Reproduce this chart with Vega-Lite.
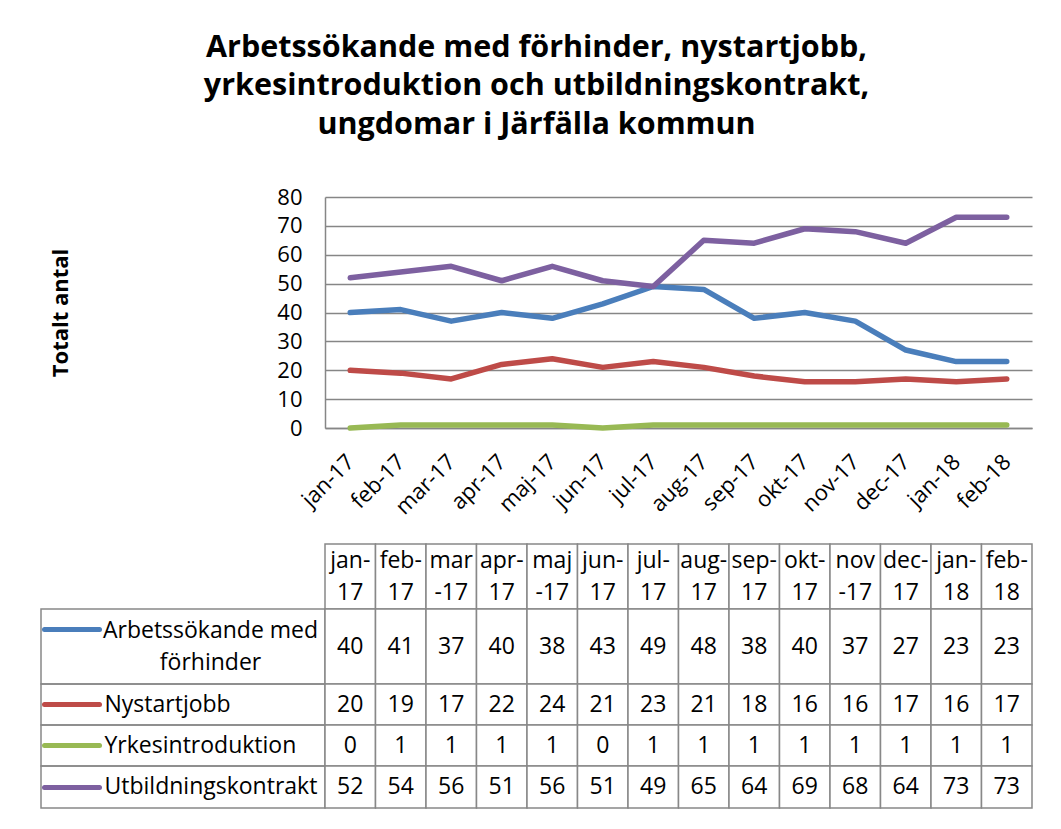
{
  "$schema": "https://vega.github.io/schema/vega-lite/v6.json",
  "background": "white",
  "padding": {"left": 40, "top": 32, "right": 10, "bottom": 10},
  "config": {"font": "Open Sans", "view": {"stroke": null}},
  "title": {"text": ["Arbetssökande med förhinder, nystartjobb,", "yrkesintroduktion och utbildningskontrakt,", "ungdomar i Järfälla kommun"], "font": "Open Sans", "fontSize": 30.5, "fontWeight": "bold", "lineHeight": 38.5, "anchor": "middle", "offset": 46, "color": "black"},
  "datasets": {
    "d": [
      {"m": "jan-17", "s": "Arbetssökande med förhinder", "v": 40},
      {"m": "feb-17", "s": "Arbetssökande med förhinder", "v": 41},
      {"m": "mar-17", "s": "Arbetssökande med förhinder", "v": 37},
      {"m": "apr-17", "s": "Arbetssökande med förhinder", "v": 40},
      {"m": "maj-17", "s": "Arbetssökande med förhinder", "v": 38},
      {"m": "jun-17", "s": "Arbetssökande med förhinder", "v": 43},
      {"m": "jul-17", "s": "Arbetssökande med förhinder", "v": 49},
      {"m": "aug-17", "s": "Arbetssökande med förhinder", "v": 48},
      {"m": "sep-17", "s": "Arbetssökande med förhinder", "v": 38},
      {"m": "okt-17", "s": "Arbetssökande med förhinder", "v": 40},
      {"m": "nov-17", "s": "Arbetssökande med förhinder", "v": 37},
      {"m": "dec-17", "s": "Arbetssökande med förhinder", "v": 27},
      {"m": "jan-18", "s": "Arbetssökande med förhinder", "v": 23},
      {"m": "feb-18", "s": "Arbetssökande med förhinder", "v": 23},
      {"m": "jan-17", "s": "Nystartjobb", "v": 20},
      {"m": "feb-17", "s": "Nystartjobb", "v": 19},
      {"m": "mar-17", "s": "Nystartjobb", "v": 17},
      {"m": "apr-17", "s": "Nystartjobb", "v": 22},
      {"m": "maj-17", "s": "Nystartjobb", "v": 24},
      {"m": "jun-17", "s": "Nystartjobb", "v": 21},
      {"m": "jul-17", "s": "Nystartjobb", "v": 23},
      {"m": "aug-17", "s": "Nystartjobb", "v": 21},
      {"m": "sep-17", "s": "Nystartjobb", "v": 18},
      {"m": "okt-17", "s": "Nystartjobb", "v": 16},
      {"m": "nov-17", "s": "Nystartjobb", "v": 16},
      {"m": "dec-17", "s": "Nystartjobb", "v": 17},
      {"m": "jan-18", "s": "Nystartjobb", "v": 16},
      {"m": "feb-18", "s": "Nystartjobb", "v": 17},
      {"m": "jan-17", "s": "Yrkesintroduktion", "v": 0},
      {"m": "feb-17", "s": "Yrkesintroduktion", "v": 1},
      {"m": "mar-17", "s": "Yrkesintroduktion", "v": 1},
      {"m": "apr-17", "s": "Yrkesintroduktion", "v": 1},
      {"m": "maj-17", "s": "Yrkesintroduktion", "v": 1},
      {"m": "jun-17", "s": "Yrkesintroduktion", "v": 0},
      {"m": "jul-17", "s": "Yrkesintroduktion", "v": 1},
      {"m": "aug-17", "s": "Yrkesintroduktion", "v": 1},
      {"m": "sep-17", "s": "Yrkesintroduktion", "v": 1},
      {"m": "okt-17", "s": "Yrkesintroduktion", "v": 1},
      {"m": "nov-17", "s": "Yrkesintroduktion", "v": 1},
      {"m": "dec-17", "s": "Yrkesintroduktion", "v": 1},
      {"m": "jan-18", "s": "Yrkesintroduktion", "v": 1},
      {"m": "feb-18", "s": "Yrkesintroduktion", "v": 1},
      {"m": "jan-17", "s": "Utbildningskontrakt", "v": 52},
      {"m": "feb-17", "s": "Utbildningskontrakt", "v": 54},
      {"m": "mar-17", "s": "Utbildningskontrakt", "v": 56},
      {"m": "apr-17", "s": "Utbildningskontrakt", "v": 51},
      {"m": "maj-17", "s": "Utbildningskontrakt", "v": 56},
      {"m": "jun-17", "s": "Utbildningskontrakt", "v": 51},
      {"m": "jul-17", "s": "Utbildningskontrakt", "v": 49},
      {"m": "aug-17", "s": "Utbildningskontrakt", "v": 65},
      {"m": "sep-17", "s": "Utbildningskontrakt", "v": 64},
      {"m": "okt-17", "s": "Utbildningskontrakt", "v": 69},
      {"m": "nov-17", "s": "Utbildningskontrakt", "v": 68},
      {"m": "dec-17", "s": "Utbildningskontrakt", "v": 64},
      {"m": "jan-18", "s": "Utbildningskontrakt", "v": 73},
      {"m": "feb-18", "s": "Utbildningskontrakt", "v": 73}
    ]
  },
  "columns": 2,
  "spacing": 0,
  "bounds": "flush",
  "align": "each",
  "concat": [
    {"width": 284, "height": 231, "data": {"values": [{}]}, "mark": "text", "encoding": {"text": {"value": ""}}},
    {
      "width": 707, "height": 231,
      "data": {"name": "d"},
      "mark": {"type": "line", "strokeWidth": 5.5, "strokeCap": "round", "strokeJoin": "round"},
      "encoding": {
        "x": {"field": "m", "type": "ordinal", "sort": ["jan-17","feb-17","mar-17","apr-17","maj-17","jun-17","jul-17","aug-17","sep-17","okt-17","nov-17","dec-17","jan-18","feb-18"], "scale": {"padding": 0.5},
              "axis": {"title": null, "labelAngle": -45, "labelAlign": "right", "labelBaseline": "middle", "labelFontSize": 22, "labelColor": "black", "labelPadding": 30, "ticks": false, "domain": true, "domainColor": "#868686", "domainWidth": 1.5, "grid": false}},
        "y": {"field": "v", "type": "quantitative", "scale": {"domain": [0, 80], "nice": false},
              "axis": {"values": [0,10,20,30,40,50,60,70,80], "title": "Totalt antal", "titleFontSize": 22, "titleFontWeight": "bold", "titleColor": "black", "titlePadding": 204, "labelFontSize": 22, "labelColor": "black", "labelPadding": 23, "ticks": false, "domainColor": "#868686", "domainWidth": 1.5, "grid": true, "gridColor": "#868686", "gridWidth": 1.5}},
        "color": {"field": "s", "type": "nominal", "scale": {"domain": ["Arbetssökande med förhinder", "Nystartjobb", "Yrkesintroduktion", "Utbildningskontrakt"], "range": ["#4A7EBB", "#BE4B48", "#98B954", "#7D60A0"]}, "legend": null}
      }
    },
    {"width": 284, "height": 116, "data": {"values": [{}]}, "mark": "text", "encoding": {"text": {"value": ""}}},
    {"width": 707, "height": 116, "data": {"values": [{}]}, "mark": "text", "encoding": {"text": {"value": ""}}},
    {"width": 284, "height": 65, "data": {"values": [{}]}, "mark": "text", "encoding": {"text": {"value": ""}}},
    {
      "width": 707, "height": 65,
      "data": {"name": "d"},
      "transform": [
        {"filter": "datum.s === 'Nystartjobb'"},
        {"calculate": "indexof(['mar-17','maj-17','nov-17'], datum.m) >= 0 ? [substring(datum.m, 0, 3), substring(datum.m, 3)] : [substring(datum.m, 0, 4), substring(datum.m, 4)]", "as": "h"}
      ],
      "layer": [
        {"mark": {"type": "rect", "fill": "white", "stroke": "#888888", "strokeWidth": 1.5},
         "encoding": {"x": {"field": "m", "type": "ordinal", "sort": ["jan-17","feb-17","mar-17","apr-17","maj-17","jun-17","jul-17","aug-17","sep-17","okt-17","nov-17","dec-17","jan-18","feb-18"], "scale": {"paddingInner": 0, "paddingOuter": 0}, "axis": null}}},
        {"mark": {"type": "text", "fontSize": 23, "color": "black", "lineHeight": 32, "baseline": "middle", "dy": -16},
         "encoding": {"x": {"field": "m", "type": "ordinal", "sort": ["jan-17","feb-17","mar-17","apr-17","maj-17","jun-17","jul-17","aug-17","sep-17","okt-17","nov-17","dec-17","jan-18","feb-18"], "axis": null}, "text": {"field": "h"}}}
      ]
    },
    {"width": 284, "height": 75, "data": {"values": [{}]}, "mark": "text", "encoding": {"text": {"value": ""}}, "view": {"stroke": "#888888", "strokeWidth": 1.5}},
    {
      "width": 707, "height": 75,
      "data": {"name": "d"},
      "transform": [{"filter": "datum.s === 'Arbetssökande med förhinder'"}],
      "layer": [
        {"mark": {"type": "rect", "fill": "white", "stroke": "#888888", "strokeWidth": 1.5},
         "encoding": {
           "x": {"field": "m", "type": "ordinal", "sort": ["jan-17","feb-17","mar-17","apr-17","maj-17","jun-17","jul-17","aug-17","sep-17","okt-17","nov-17","dec-17","jan-18","feb-18"], "scale": {"paddingInner": 0, "paddingOuter": 0}, "axis": null},
           "y": {"field": "s", "type": "nominal", "scale": {"paddingInner": 0, "paddingOuter": 0},
                 "axis": {"title": null, "domain": false, "grid": false, "ticks": true, "tickSize": 55, "tickWidth": 5, "tickColor": "#4A7EBB", "tickCap": "round", "offset": 226, "tickOffset": -17.5, "labelOffset": 1.5, "labelPadding": -166, "labelAlign": "center", "labelBaseline": "middle", "labelFontSize": 23, "labelColor": "black", "labelLimit": 0, "labelLineHeight": 32, "labelExpr": "['Arbetssökande med', 'förhinder']"}}
         }},
        {"mark": {"type": "text", "fontSize": 23, "color": "black"},
         "encoding": {"x": {"field": "m", "type": "ordinal", "sort": ["jan-17","feb-17","mar-17","apr-17","maj-17","jun-17","jul-17","aug-17","sep-17","okt-17","nov-17","dec-17","jan-18","feb-18"], "axis": null}, "y": {"field": "s", "type": "nominal"}, "text": {"field": "v"}}}
      ]
    },
    {"width": 284, "height": 41, "data": {"values": [{}]}, "mark": "text", "encoding": {"text": {"value": ""}}, "view": {"stroke": "#888888", "strokeWidth": 1.5}},
    {
      "width": 707, "height": 41,
      "data": {"name": "d"},
      "transform": [{"filter": "datum.s === 'Nystartjobb'"}],
      "layer": [
        {"mark": {"type": "rect", "fill": "white", "stroke": "#888888", "strokeWidth": 1.5},
         "encoding": {
           "x": {"field": "m", "type": "ordinal", "sort": ["jan-17","feb-17","mar-17","apr-17","maj-17","jun-17","jul-17","aug-17","sep-17","okt-17","nov-17","dec-17","jan-18","feb-18"], "scale": {"paddingInner": 0, "paddingOuter": 0}, "axis": null},
           "y": {"field": "s", "type": "nominal", "scale": {"paddingInner": 0, "paddingOuter": 0},
                 "axis": {"title": null, "domain": false, "grid": false, "ticks": true, "tickSize": 55, "tickWidth": 5, "tickColor": "#BE4B48", "tickCap": "round", "offset": 226, "labelPadding": -60, "labelAlign": "left", "labelBaseline": "middle", "labelFontSize": 23, "labelColor": "black", "labelLimit": 0}}
         }},
        {"mark": {"type": "text", "fontSize": 23, "color": "black"},
         "encoding": {"x": {"field": "m", "type": "ordinal", "sort": ["jan-17","feb-17","mar-17","apr-17","maj-17","jun-17","jul-17","aug-17","sep-17","okt-17","nov-17","dec-17","jan-18","feb-18"], "axis": null}, "y": {"field": "s", "type": "nominal"}, "text": {"field": "v"}}}
      ]
    },
    {"width": 284, "height": 41, "data": {"values": [{}]}, "mark": "text", "encoding": {"text": {"value": ""}}, "view": {"stroke": "#888888", "strokeWidth": 1.5}},
    {
      "width": 707, "height": 41,
      "data": {"name": "d"},
      "transform": [{"filter": "datum.s === 'Yrkesintroduktion'"}],
      "layer": [
        {"mark": {"type": "rect", "fill": "white", "stroke": "#888888", "strokeWidth": 1.5},
         "encoding": {
           "x": {"field": "m", "type": "ordinal", "sort": ["jan-17","feb-17","mar-17","apr-17","maj-17","jun-17","jul-17","aug-17","sep-17","okt-17","nov-17","dec-17","jan-18","feb-18"], "scale": {"paddingInner": 0, "paddingOuter": 0}, "axis": null},
           "y": {"field": "s", "type": "nominal", "scale": {"paddingInner": 0, "paddingOuter": 0},
                 "axis": {"title": null, "domain": false, "grid": false, "ticks": true, "tickSize": 55, "tickWidth": 5, "tickColor": "#98B954", "tickCap": "round", "offset": 226, "labelPadding": -60, "labelAlign": "left", "labelBaseline": "middle", "labelFontSize": 23, "labelColor": "black", "labelLimit": 0}}
         }},
        {"mark": {"type": "text", "fontSize": 23, "color": "black"},
         "encoding": {"x": {"field": "m", "type": "ordinal", "sort": ["jan-17","feb-17","mar-17","apr-17","maj-17","jun-17","jul-17","aug-17","sep-17","okt-17","nov-17","dec-17","jan-18","feb-18"], "axis": null}, "y": {"field": "s", "type": "nominal"}, "text": {"field": "v"}}}
      ]
    },
    {"width": 284, "height": 42, "data": {"values": [{}]}, "mark": "text", "encoding": {"text": {"value": ""}}, "view": {"stroke": "#888888", "strokeWidth": 1.5}},
    {
      "width": 707, "height": 42,
      "data": {"name": "d"},
      "transform": [{"filter": "datum.s === 'Utbildningskontrakt'"}],
      "layer": [
        {"mark": {"type": "rect", "fill": "white", "stroke": "#888888", "strokeWidth": 1.5},
         "encoding": {
           "x": {"field": "m", "type": "ordinal", "sort": ["jan-17","feb-17","mar-17","apr-17","maj-17","jun-17","jul-17","aug-17","sep-17","okt-17","nov-17","dec-17","jan-18","feb-18"], "scale": {"paddingInner": 0, "paddingOuter": 0}, "axis": null},
           "y": {"field": "s", "type": "nominal", "scale": {"paddingInner": 0, "paddingOuter": 0},
                 "axis": {"title": null, "domain": false, "grid": false, "ticks": true, "tickSize": 55, "tickWidth": 5, "tickColor": "#7D60A0", "tickCap": "round", "offset": 226, "labelPadding": -60, "labelAlign": "left", "labelBaseline": "middle", "labelFontSize": 23, "labelColor": "black", "labelLimit": 0}}
         }},
        {"mark": {"type": "text", "fontSize": 23, "color": "black"},
         "encoding": {"x": {"field": "m", "type": "ordinal", "sort": ["jan-17","feb-17","mar-17","apr-17","maj-17","jun-17","jul-17","aug-17","sep-17","okt-17","nov-17","dec-17","jan-18","feb-18"], "axis": null}, "y": {"field": "s", "type": "nominal"}, "text": {"field": "v"}}}
      ]
    }
  ]
}
